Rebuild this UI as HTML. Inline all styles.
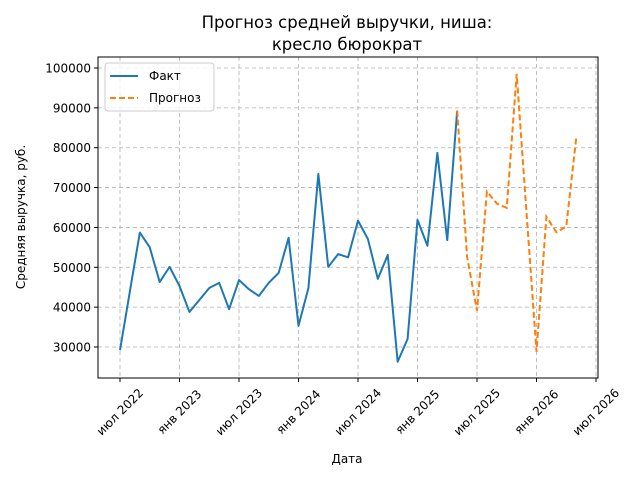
<!DOCTYPE html>
<html><head><meta charset="utf-8"><style>
body{margin:0;background:#fff;font-family:"Liberation Sans","DejaVu Sans",sans-serif}
svg text{font-family:"DejaVu Sans","Liberation Sans",sans-serif;fill:#000}
</style></head><body>
<svg id="chart" width="640" height="480" xmlns="http://www.w3.org/2000/svg">
<rect width="640" height="480" fill="#fff"/>
<text x="347" y="28" font-size="16.5" text-anchor="middle">Прогноз средней выручки, ниша:</text>
<text x="347" y="50" font-size="16.5" text-anchor="middle">кресло бюрократ</text>
<g id="grid"></g><g id="axes"></g><g id="series"></g>
<rect x="98" y="57" width="500" height="321" fill="none" stroke="#000" stroke-width="1"/>
<text transform="translate(25,217) rotate(-90)" font-size="12" text-anchor="middle">Средняя выручка, руб.</text>
<text x="347" y="463" font-size="12" text-anchor="middle">Дата</text>
<g>
<rect x="105" y="63" width="109" height="48" rx="3" fill="#fff" fill-opacity="0.8" stroke="#ccc"/>
<line x1="110" y1="76" x2="138" y2="76" stroke="#1f77b4" stroke-width="2"/>
<text x="149" y="80" font-size="12">Факт</text>
<line x1="110" y1="98" x2="138" y2="98" stroke="#ff7f0e" stroke-width="2" stroke-dasharray="6,3"/>
<text x="149" y="102" font-size="12">Прогноз</text>
</g>
</svg>
<script>
const factValues=[29200,44000,58700,55000,46300,50100,45300,38800,41800,44800,46100,39500,46800,44500,42800,46100,48600,57400,35300,44800,73400,50100,53300,52500,61700,57100,47100,53100,26300,32000,61900,55400,78700,56800,89300];
const forecastValues=[89300,52600,39100,69000,66000,64900,98500,63500,28800,62700,58800,60200,82300];
const forecastStart=34;
const yTicks=[30000,40000,50000,60000,70000,80000,90000,100000];
const xTickLabels=["июл 2022","янв 2023","июл 2023","янв 2024","июл 2024","янв 2025","июл 2025","янв 2026","июл 2026"];
const NS="http://www.w3.org/2000/svg";
const xs=i=>120+i*(476/48);
const ys=v=>347-(v-30000)*279/70000;
function mk(tag,attrs,parent){const e=document.createElementNS(NS,tag);for(const k in attrs)e.setAttribute(k,attrs[k]);parent.appendChild(e);return e;}
const grid=document.getElementById('grid'),axes=document.getElementById('axes'),series=document.getElementById('series');
yTicks.forEach(v=>{const y=ys(v);
const g=mk('line',{x1:98,x2:598,y1:y,y2:y,stroke:'#b0b0b0','stroke-dasharray':'4,3','stroke-width':0.8},grid);


mk('line',{x1:94,x2:98,y1:y,y2:y,stroke:'#000'},axes);
const t=mk('text',{x:91,y:y+4.5,'font-size':12,'text-anchor':'end'},axes);t.textContent=v;

});
xTickLabels.forEach((l,k)=>{const x=xs(k*6);
const g=mk('line',{x1:x,x2:x,y1:57,y2:378,stroke:'#b0b0b0','stroke-dasharray':'4,3','stroke-width':0.8},grid);


mk('line',{x1:x,x2:x,y1:378,y2:382,stroke:'#000'},axes);
const t=mk('text',{x:x,y:416,'font-size':12,'text-anchor':'middle',transform:`rotate(-45 ${x} 412)`},axes);t.textContent=l;

});
const fp=factValues.map((v,i)=>xs(i)+','+ys(v)).join(' ');
const f=mk('polyline',{points:fp,fill:'none',stroke:'#1f77b4','stroke-width':2,'stroke-linejoin':'round'},series);


const pp=forecastValues.map((v,i)=>xs(i+forecastStart)+','+ys(v)).join(' ');
const p=mk('polyline',{points:pp,fill:'none',stroke:'#ff7f0e','stroke-width':2,'stroke-dasharray':'6,3'},series);


</script>
</body></html>
